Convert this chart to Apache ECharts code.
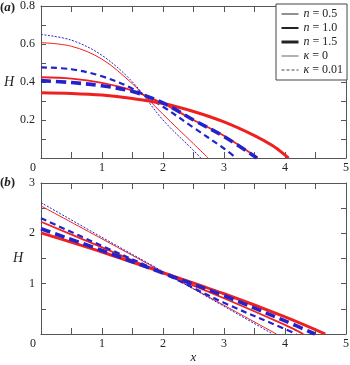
<!DOCTYPE html>
<html>
<head>
<meta charset="utf-8">
<script src="https://cdn.jsdelivr.net/npm/echarts@6/dist/echarts.min.js"></script>
<style>
html, body { margin: 0; padding: 0; background: #fff; }
#chart { width: 350px; height: 365px; }
</style>
</head>
<body>
<div id="chart"></div>
<script>
// panel (a) -- red: kappa = 0, blue: kappa = 0.01
var xA_r05 = [0, 0.5, 1, 1.5, 2, 2.5, 2.74];
var hA_r05 = [0.607, 0.588, 0.52, 0.39, 0.23, 0.075, 0];
var xA_b05 = [0, 0.5, 1, 1.5, 2, 2.5, 2.62];
var hA_b05 = [0.65, 0.62, 0.54, 0.40, 0.2, 0.04, 0];
var xA_r10 = [0, 0.5, 1, 1.5, 2, 2.5, 3, 3.55];
var hA_r10 = [0.425, 0.418, 0.395, 0.355, 0.287, 0.2, 0.117, 0];
var xA_b10 = [0, 0.5, 1, 1.5, 2, 2.5, 3, 3.2];
var hA_b10 = [0.477, 0.467, 0.43, 0.365, 0.27, 0.16, 0.05, 0];
var xA_r15 = [0, 0.5, 1, 1.5, 2, 2.5, 3, 3.5, 3.8, 4.06];
var hA_r15 = [0.344, 0.34, 0.331, 0.313, 0.287, 0.245, 0.19, 0.118, 0.064, 0];
var xA_b15 = [0, 0.5, 1, 1.5, 2, 2.5, 3, 3.54];
var hA_b15 = [0.407, 0.397, 0.38, 0.35, 0.29, 0.2, 0.113, 0];

// panel (b)
var xB_r05 = [0, 1, 2, 3, 3.86];
var hB_r05 = [2.545, 1.89, 1.23, 0.57, 0];
var xB_b05 = [0, 1, 2, 3, 3.8];
var hB_b05 = [2.61, 1.92, 1.24, 0.55, 0];
var xB_r10 = [0, 1, 2, 3, 4, 4.3];
var hB_r10 = [2.23, 1.72, 1.21, 0.71, 0.18, 0];
var xB_b10 = [0, 1, 2, 3, 4, 4.19];
var hB_b10 = [2.30, 1.75, 1.21, 0.62, 0.1, 0];
var xB_r15 = [0, 1, 2, 3, 4, 4.66];
var hB_r15 = [2.01, 1.63, 1.22, 0.80, 0.34, 0];
var xB_b15 = [0, 1, 2, 3, 4, 4.49];
var hB_b15 = [2.09, 1.66, 1.21, 0.76, 0.26, 0];

var legendNames = ['n = 0.5', 'n = 1.0', 'n = 1.5', 'κ = 0', 'κ = 0.01'];

var RED = '#ee2020';
var BLUE = '#2323cc';
var FONT = 'Liberation Serif';

function pts(xs, hs) {
    return xs.map(function (x, i) { return [x, hs[i]]; });
}

function curve(xs, hs, color, width, type, panel) {
    return {
        type: 'line',
        xAxisIndex: panel * 2,
        yAxisIndex: panel * 2,
        data: pts(xs, hs),
        smooth: 0.35,
        symbol: 'none',
        silent: true,
        z: width > 2 ? 3 : 2,
        lineStyle: { color: color, width: width, type: type }
    };
}

function xAx(grid, pos, showLabel, name) {
    return {
        type: 'value', gridIndex: grid, position: pos,
        min: 0, max: 5, interval: 1,
        name: name || '', nameLocation: 'middle', nameGap: 17,
        nameTextStyle: { fontFamily: FONT, fontStyle: 'italic', fontSize: 13, color: '#222' },
        axisLine: { show: true, onZero: false, lineStyle: { color: '#555', width: 1 } },
        axisTick: { show: true, inside: true, length: 6, lineStyle: { color: '#555' } },
        minorTick: { show: true, splitNumber: 2, length: 6, lineStyle: { color: '#555' } },
        splitLine: { show: false },
        axisLabel: {
            show: showLabel, margin: 4, fontFamily: FONT, fontSize: 12, color: '#222',
            formatter: function (v) { return v === 0 ? '{z|0}' : String(v); },
            rich: { z: { fontFamily: FONT, fontSize: 12, color: '#222', padding: [0, 16, 0, 0] } }
        }
    };
}

function yAx(grid, pos, showLabel, max, step, digits) {
    return {
        type: 'value', gridIndex: grid, position: pos,
        min: 0, max: max, interval: step,
        name: showLabel ? 'H' : '', nameLocation: 'middle', nameRotate: 0, nameGap: 6,
        nameTextStyle: { fontFamily: FONT, fontStyle: 'italic', fontSize: 14, color: '#222' },
        axisLine: { show: true, onZero: false, lineStyle: { color: '#555', width: 1 } },
        axisTick: { show: true, inside: true, length: 5, lineStyle: { color: '#555' } },
        minorTick: { show: true, splitNumber: 2, length: 5, lineStyle: { color: '#555' } },
        splitLine: { show: false },
        axisLabel: {
            show: showLabel, margin: 6, fontFamily: FONT, fontSize: 12, color: '#222',
            formatter: function (v) { return v === 0 ? '' : v.toFixed(digits); }
        }
    };
}

var legendSeries = [
    { w: 1, c: '#222', t: 'solid' },
    { w: 2, c: '#222', t: 'solid' },
    { w: 3, c: '#222', t: 'solid' },
    { w: 1.5, c: '#999', t: 'solid' },
    { w: 1, c: '#444', t: [3, 2] }
];

var series = [
    curve(xA_r05, hA_r05, RED, 1, 'solid', 0),
    curve(xA_b05, hA_b05, BLUE, 1, [2, 1.5], 0),
    curve(xA_r10, hA_r10, RED, 1.8, 'solid', 0),
    curve(xA_b10, hA_b10, BLUE, 2.2, [6, 4], 0),
    curve(xA_r15, hA_r15, RED, 3, 'solid', 0),
    curve(xA_b15, hA_b15, BLUE, 3.6, [10, 5], 0),
    curve(xB_r05, hB_r05, RED, 1, 'solid', 1),
    curve(xB_b05, hB_b05, BLUE, 1, [2, 1.5], 1),
    curve(xB_r10, hB_r10, RED, 1.8, 'solid', 1),
    curve(xB_b10, hB_b10, BLUE, 2.2, [6, 4], 1),
    curve(xB_r15, hB_r15, RED, 3, 'solid', 1),
    curve(xB_b15, hB_b15, BLUE, 3.6, [10, 5], 1)
];
legendNames.forEach(function (n, i) {
    series.push({
        type: 'line', name: n, data: [], symbol: 'none', showSymbol: false,
        xAxisIndex: 0, yAxisIndex: 0,
        itemStyle: { color: 'rgba(0,0,0,0)', opacity: 0 },
        lineStyle: { color: legendSeries[i].c, width: legendSeries[i].w, type: legendSeries[i].t }
    });
});

var titleRich = {
    p: { fontFamily: FONT, fontSize: 13, color: '#222' },
    i: { fontFamily: FONT, fontSize: 13, fontStyle: 'italic', color: '#222' }
};

var myChart = echarts.init(document.getElementById('chart'), null, { renderer: 'canvas' });
var option = {
    backgroundColor: '#fff',
    animation: false,
    title: [
        { text: '{p|(}{i|a}{p|)}', left: 0, top: 1, padding: 0, textStyle: { rich: titleRich } },
        { text: '{p|(}{i|b}{p|)}', left: 0, top: 176, padding: 0, textStyle: { rich: titleRich } }
    ],
    grid: [
        { left: 41, top: 6, width: 305, height: 152, outerBoundsMode: 'none' },
        { left: 41, top: 183, width: 305, height: 151, outerBoundsMode: 'none' }
    ],
    xAxis: [
        xAx(0, 'bottom', true),
        xAx(0, 'top', false),
        xAx(1, 'bottom', true, 'x'),
        xAx(1, 'top', false)
    ],
    yAxis: [
        yAx(0, 'left', true, 0.8, 0.2, 1),
        yAx(0, 'right', false, 0.8, 0.2, 1),
        yAx(1, 'left', true, 3, 1, 0),
        yAx(1, 'right', false, 3, 1, 0)
    ],
    legend: {
        orient: 'vertical',
        left: 276, top: 4,
        padding: [4, 4, 4, 4],
        itemWidth: 17, itemHeight: 12, itemGap: 2,
        backgroundColor: '#fff',
        borderColor: '#444', borderWidth: 1, borderRadius: 0,
        selectedMode: false,
        data: legendNames.map(function (n, i) {
            return {
                name: n,
                itemStyle: { color: 'rgba(0,0,0,0)', borderWidth: 0, opacity: 0 },
                lineStyle: { color: legendSeries[i].c, width: legendSeries[i].w, type: legendSeries[i].t, opacity: 1 }
            };
        }),
        formatter: function (name) {
            var p = name.split(' = ');
            return '{i|' + p[0] + '}{t| = ' + p[1] + '}';
        },
        textStyle: {
            rich: {
                i: { fontFamily: FONT, fontStyle: 'italic', fontSize: 12, color: '#222' },
                t: { fontFamily: FONT, fontSize: 12, color: '#222' }
            }
        }
    },
    series: series
};
myChart.setOption(option);
window.onresize = function () { myChart.resize(); };
</script>
</body>
</html>
